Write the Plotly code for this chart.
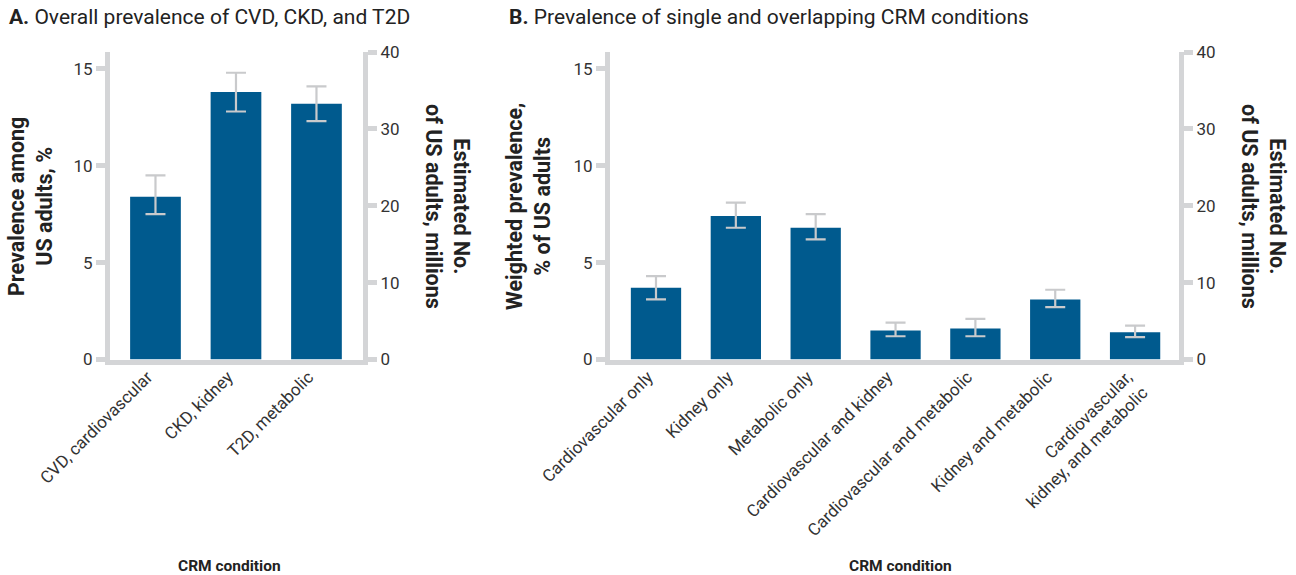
import plotly.graph_objects as go

# ---- Data ----
cats_a = ["CVD, cardiovascular", "CKD, kidney", "T2D, metabolic"]
prev_a = [8.4, 13.8, 13.2]
lo_a = [7.5, 12.8, 12.3]
hi_a = [9.5, 14.8, 14.1]

cats_b = ["Cardiovascular only", "Kidney only", "Metabolic only",
          "Cardiovascular and kidney", "Cardiovascular and metabolic",
          "Kidney and metabolic", "Cardiovascular,<br>kidney, and metabolic"]
prev_b = [3.7, 7.4, 6.8, 1.5, 1.6, 3.1, 1.4]
lo_b = [3.1, 6.8, 6.2, 1.2, 1.2, 2.7, 1.15]
hi_b = [4.3, 8.1, 7.5, 1.9, 2.1, 3.6, 1.75]

left_ticks = [0, 5, 10, 15]
right_ticks = [0, 10, 20, 30, 40]

# ---- Style ----
W, H = 1296, 575
BAR = "#005a8e"
ERR = "#c9cacc"
AX = "#d4d5d7"
TXT = "#333333"
FONT = "Roboto"

def px(x):
    return x / W

def py(y):
    return 1 - y / H

ydom = [py(359.5), py(52)]
dom_a = [px(110), px(363)]
dom_b = [px(610), px(1179)]

fig = go.Figure()

def add_bars(cats, vals, lo, hi, xa, ya):
    fig.add_trace(go.Bar(
        x=list(range(len(cats))), y=vals, xaxis=xa, yaxis=ya,
        marker=dict(color=BAR, line=dict(width=0)),
        error_y=dict(type="data", symmetric=False,
                     array=[h - v for h, v in zip(hi, vals)],
                     arrayminus=[v - l for v, l in zip(vals, lo)],
                     color=ERR, thickness=2.2, width=10),
        showlegend=False, hoverinfo="skip"))

add_bars(cats_a, prev_a, lo_a, hi_a, "x", "y")
add_bars(cats_b, prev_b, lo_b, hi_b, "x2", "y3")
# empty traces so that the secondary (millions) axes are drawn
fig.add_trace(go.Scatter(x=[None], y=[None], xaxis="x", yaxis="y2",
                         showlegend=False, hoverinfo="skip"))
fig.add_trace(go.Scatter(x=[None], y=[None], xaxis="x2", yaxis="y4",
                         showlegend=False, hoverinfo="skip"))

yl_max = 15.87
common_y = dict(showline=True, linecolor=AX, linewidth=5, ticks="outside",
                ticklen=9, tickwidth=5, tickcolor=AX, showgrid=False,
                zeroline=False, tickfont=dict(family=FONT, size=17, color=TXT),
                automargin=False, fixedrange=True)
common_x = dict(showline=True, linecolor=AX, linewidth=5, ticks="",
                showgrid=False, zeroline=False, tickangle=-45,
                tickfont=dict(family=FONT, size=17, color=TXT),
                ticklabelshift=-8, ticklabelstandoff=-4,
                automargin=False, tickmode="array", fixedrange=True)

fig.update_layout(
    width=W, height=H,
    margin=dict(l=0, r=0, t=0, b=0),
    paper_bgcolor="white", plot_bgcolor="white",
    bargap=0.37,
    xaxis=dict(domain=dom_a, range=[-0.565, 2.578], anchor="y",
               tickvals=list(range(len(cats_a))), ticktext=cats_a, **common_x),
    yaxis=dict(domain=ydom, range=[0, yl_max], anchor="x", side="left",
               tickvals=left_ticks, **common_y),
    yaxis2=dict(domain=ydom, range=[0, 40], anchor="x", overlaying="y",
                side="right", tickvals=right_ticks, **common_y),
    xaxis2=dict(domain=dom_b, range=[-0.576, 6.55], anchor="y3",
                tickvals=list(range(len(cats_b))), ticktext=cats_b, **common_x),
    yaxis3=dict(domain=ydom, range=[0, yl_max], anchor="x2", side="left",
                tickvals=left_ticks, **common_y),
    yaxis4=dict(domain=ydom, range=[0, 40], anchor="x2", overlaying="y3",
                side="right", tickvals=right_ticks, **common_y),
)

ann = []
def add_text(text, x, y, size, angle=0, xanchor="center"):
    ann.append(dict(text=text, x=px(x), y=py(y), xref="paper", yref="paper",
                    xanchor=xanchor, yanchor="middle", showarrow=False,
                    textangle=angle, align="center",
                    font=dict(family=FONT, size=size, color="#222222")))

add_text("<b>A.</b> Overall prevalence of CVD, CKD, and T2D", 7, 17, 21, xanchor="left")
add_text("<b>B.</b> Prevalence of single and overlapping CRM conditions", 507, 17, 21, xanchor="left")
add_text("<b>Prevalence among<br>US adults, %</b>", 30, 207, 21.5, angle=-90)
add_text("<b>Estimated No.<br>of US adults, millions</b>", 448, 206, 21.5, angle=90)
add_text("<b>Weighted prevalence,<br>% of US adults</b>", 528, 207, 21.5, angle=-90)
add_text("<b>Estimated No.<br>of US adults, millions</b>", 1264, 206, 21.5, angle=90)
add_text("<b>CRM condition</b>", 229, 566, 15.5)
add_text("<b>CRM condition</b>", 900, 566, 15.5)

fig.update_layout(annotations=ann)

fig.write_html("out.html", config={"displayModeBar": False},
               post_script="document.body.style.margin='0';")
